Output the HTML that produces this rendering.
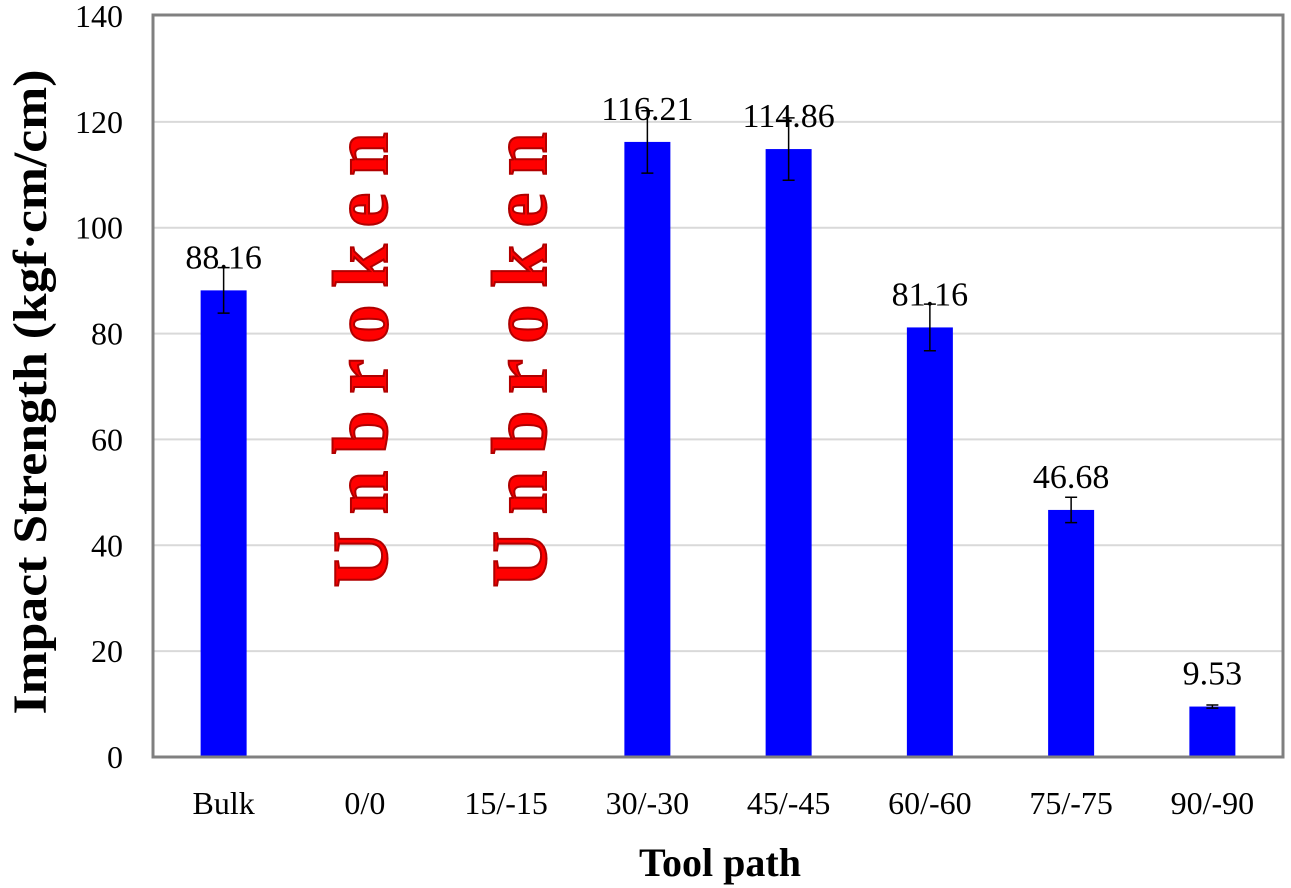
<!DOCTYPE html>
<html><head><meta charset="utf-8"><style>body{margin:0;background:#fff}svg{display:block}</style></head>
<body>
<svg id="chart" width="1291" height="888" xmlns="http://www.w3.org/2000/svg" font-family="Liberation Serif, serif">
<g id="grid"></g>
<g id="bars"></g>
<g id="axes"></g>
<rect x="153" y="15" width="1130" height="742" fill="none" stroke="#808080" stroke-width="3"/>
<text transform="translate(387,360) rotate(-90)" text-anchor="middle" font-size="78" font-weight="bold" fill="#ff0000" stroke="#b00000" stroke-width="2" textLength="455" lengthAdjust="spacing">Unbroken</text>
<text transform="translate(546,360) rotate(-90)" text-anchor="middle" font-size="78" font-weight="bold" fill="#ff0000" stroke="#b00000" stroke-width="2" textLength="455" lengthAdjust="spacing">Unbroken</text>
<text transform="translate(46,392) rotate(-90)" text-anchor="middle" font-size="48" font-weight="bold" textLength="645" lengthAdjust="spacingAndGlyphs">Impact Strength (kgf·cm/cm)</text>
<text x="720" y="876" text-anchor="middle" font-size="40" font-weight="bold">Tool path</text>
</svg>
<script>
const categories=["Bulk","0/0","15/-15","30/-30","45/-45","60/-60","75/-75","90/-90"];
const values=[88.16,null,null,116.21,114.86,81.16,46.68,9.53];
const errors=[4.3,null,null,5.9,5.9,4.4,2.4,0.3];
const yTicks=[0,20,40,60,80,100,120,140];
const NS="http://www.w3.org/2000/svg";
const L=153,R=1283,T=16,B=757,YMAX=140;
const y=v=>B-(v/YMAX)*(B-T);
const bw=(R-L)/categories.length;
const x=i=>L+bw*(i+0.5);
function mk(tag,attrs,parent,txt){const e=document.createElementNS(NS,tag);for(const k in attrs)e.setAttribute(k,attrs[k]);if(txt!=null)e.textContent=txt;parent.appendChild(e);return e;}
const grid=document.getElementById('grid'),bars=document.getElementById('bars'),axes=document.getElementById('axes');
yTicks.forEach(t=>{
 if(t>0&&t<140){const g=mk('line',{x1:L,x2:R,y1:y(t),y2:y(t),stroke:'#d9d9d9','stroke-width':2},grid);
 
 }
 const lb=mk('text',{x:L-30,y:y(t)+11,'text-anchor':'end','font-size':32},axes,t);
 
 
});
categories.forEach((c,i)=>{
 const lb=mk('text',{x:x(i),y:814,'text-anchor':'middle','font-size':32},axes,c);
 
 
 const v=values[i]; if(v==null)return;
 const r=mk('rect',{x:x(i)-23,y:y(v),width:46,height:B-y(v),fill:'#0000ff'},bars);
 
 
 const e=errors[i];
 const eb=mk('path',{d:`M${x(i)},${y(v+e)}V${y(v-e)}M${x(i)-6},${y(v+e)}h12M${x(i)-6},${y(v-e)}h12`,stroke:'#000','stroke-width':1.5,fill:'none'},bars);
 
 
 const vl=mk('text',{x:x(i),y:y(v)-22,'text-anchor':'middle','font-size':34},bars,v.toFixed(2));
 
 
});
</script>
</body></html>
